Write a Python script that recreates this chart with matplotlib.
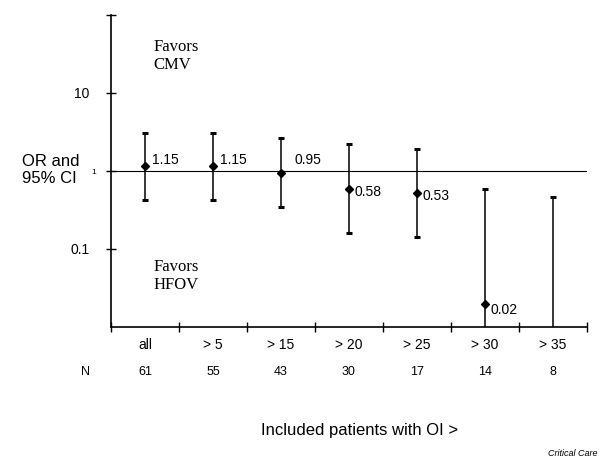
import matplotlib
matplotlib.use("Agg")
import matplotlib.pyplot as plt
import matplotlib.transforms as mtransforms
import numpy as np

categories = ["all", "> 5", "> 15", "> 20", "> 25", "> 30", "> 35"]
n_patients = [61, 55, 43, 30, 17, 14, 8]
odds_ratio = [1.15, 1.15, 0.95, 0.58, 0.53, 0.02, np.nan]
or_labels = ["1.15", "1.15", "0.95", "0.58", "0.53", "0.02", ""]
ci_upper = [3.1, 3.1, 2.65, 2.2, 1.93, 0.59, 0.47]
ci_lower = [0.42, 0.42, 0.35, 0.16, 0.143, 0.001, 0.001]
ytick_vals = [0.1, 1, 10]
ytick_labels = ["0.1", "1", "10"]

plt.rcParams['font.family'] = ['Liberation Sans', 'DejaVu Sans']

fig = plt.figure(figsize=(6.0, 4.59), dpi=100)
ax = fig.add_axes([111/600, 1 - 327/459, (587-111)/600, (327-15)/459])

x = np.arange(len(categories)) + 0.5
ax.set_yscale('log')
ax.set_ylim(0.01, 100)
ax.set_xlim(0, len(categories))

# reference line at OR = 1
ax.axhline(1, color='black', lw=0.8, zorder=1)

for i in range(len(categories)):
    lo, hi = ci_lower[i], ci_upper[i]
    ax.vlines(x[i], lo, hi, color='black', lw=1.1, zorder=2)
    ax.plot([x[i] - 0.05, x[i] + 0.05], [hi, hi], color='black', lw=2.2,
            solid_capstyle='butt', zorder=2)
    ax.plot([x[i] - 0.05, x[i] + 0.05], [lo, lo], color='black', lw=2.2,
            solid_capstyle='butt', zorder=2)
    if not np.isnan(odds_ratio[i]):
        ax.plot(x[i], odds_ratio[i], marker='D', color='black', ms=4.5, zorder=3)

label_dx = [0.1, 0.1, 0.2, 0.08, 0.08, 0.08, 0.08]
label_dy = [1.2, 1.2, 1.45, 0.92, 0.9, 0.82, 1.0]
for i, s in enumerate(or_labels):
    if s:
        ax.text(x[i] + label_dx[i], odds_ratio[i] * label_dy[i], s,
                fontsize=10, ha='left', va='center')

ax.text(0.62, 30, "Favors\nCMV", family='Liberation Serif', fontsize=12,
        ha='left', va='center', linespacing=1.15)
ax.text(0.62, 0.045, "Favors\nHFOV", family='Liberation Serif', fontsize=12,
        ha='left', va='center', linespacing=1.15)

# spines
ax.spines['top'].set_visible(False)
ax.spines['right'].set_visible(False)
for sp in ['left', 'bottom']:
    ax.spines[sp].set_linewidth(1.2)

ax.set_yticks(ytick_vals)
ax.set_yticklabels(ytick_labels)
ax.tick_params(axis='y', which='major', direction='inout', length=7, width=1,
               labelsize=10, pad=12)
one_label = ax.get_yticklabels()[1]
one_label.set_fontsize(6)
one_label.set_transform(one_label.get_transform() +
                        mtransforms.ScaledTranslation(0.07, 0, fig.dpi_scale_trans))
ax.set_yticks([100], minor=True)
ax.set_yticklabels([""], minor=True)
ax.tick_params(axis='y', which='minor', direction='inout', length=7, width=1)

ax.set_xticks(np.arange(len(categories) + 1))
ax.set_xticklabels([])
ax.tick_params(axis='x', which='major', direction='inout', length=7, width=1)
ax.set_xticks(x, minor=True)
ax.set_xticklabels(categories, minor=True)
ax.tick_params(axis='x', which='minor', length=0, labelsize=10, pad=8)

trans = mtransforms.blended_transform_factory(ax.transData, fig.transFigure)
for i, n in enumerate(n_patients):
    ax.text(x[i], 1 - 372/459, str(n), transform=trans, fontsize=9,
            ha='center', va='center')
fig.text(86/600, 1 - 372/459, "N", fontsize=9, ha='center', va='center')

fig.text(22/600, 1 - 170/459, "OR and\n95% CI", fontsize=12, ha='left',
         va='center', linespacing=1.1)
fig.text(360/600, 1 - 430/459, "Included patients with OI >", fontsize=12,
         ha='center', va='center')
fig.text(597/600, 1 - 453/459, "Critical Care", fontsize=6.5, style='italic',
         ha='right', va='center')

fig.savefig("out.png", dpi=100)
